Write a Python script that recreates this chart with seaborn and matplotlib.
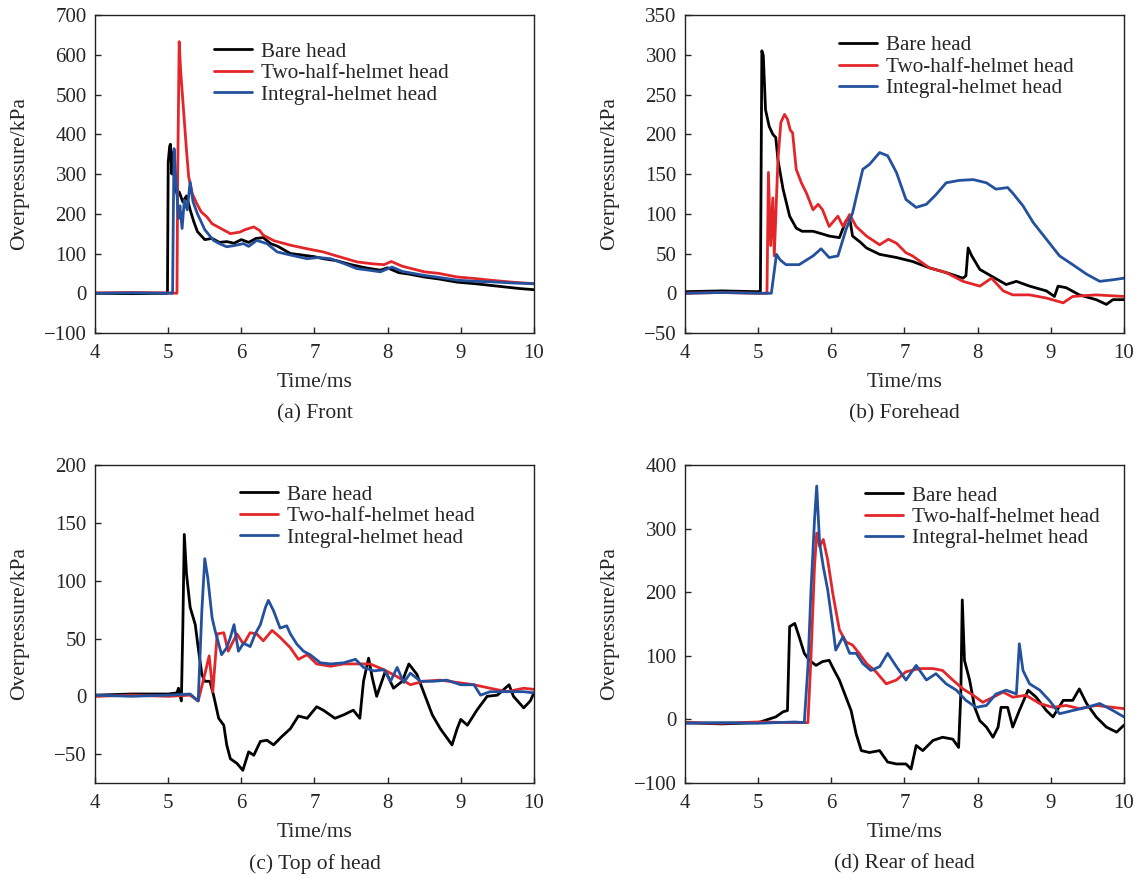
import numpy as np
import pandas as pd
import seaborn as sns
import matplotlib.pyplot as plt

# ---- (a) Front ----
a_bare_t = [4.0, 4.5, 4.98, 4.99, 5.0, 5.02, 5.03, 5.05, 5.06, 5.09, 5.12, 5.15, 5.2, 5.25, 5.3, 5.35, 5.4, 5.5, 5.6,
            5.7, 5.8, 5.9, 6.0, 6.1, 6.2, 6.3, 6.4, 6.5, 6.67, 6.8, 7.0, 7.12, 7.3, 7.5, 7.7, 7.9, 8.0, 8.05, 8.15, 8.3,
            8.5, 8.7, 8.95, 9.2, 9.4, 9.6, 9.8, 10.0]
a_bare_v = [0, -1, 0, 2, 330, 370, 375, 300, 355, 280, 250, 255, 230, 245, 210, 180, 155, 135, 138, 128, 130, 126, 135,
            128, 138, 140, 125, 118, 100, 97, 92, 87, 82, 72, 64, 58, 64, 60, 52, 48, 41, 36, 28, 24, 20, 16, 12, 9]
a_two_t = [4.0, 4.5, 5.0, 5.12, 5.13, 5.15, 5.17, 5.21, 5.25, 5.28, 5.33, 5.39, 5.45, 5.53, 5.6, 5.7, 5.76, 5.85,
           5.98, 6.05, 6.17, 6.25, 6.3, 6.45, 6.67, 6.9, 7.12, 7.3, 7.58, 7.8, 7.95, 8.05, 8.2, 8.5, 8.7, 8.95, 9.2,
           9.4, 9.7, 10.0]
a_two_v = [1, 2, 1, 0, 300, 633, 560, 460, 360, 293, 250, 226, 205, 192, 175, 165, 159, 150, 154, 160, 167, 158, 146,
           132, 121, 112, 104, 94, 79, 74, 72, 80, 68, 54, 50, 41, 37, 33, 28, 24]
a_int_t = [4.0, 4.5, 5.0, 5.06, 5.07, 5.08, 5.1, 5.12, 5.14, 5.16, 5.19, 5.22, 5.26, 5.3, 5.34, 5.4, 5.44, 5.5, 5.62,
           5.7, 5.8, 5.9, 6.03, 6.1, 6.21, 6.35, 6.49, 6.7, 6.9, 7.05, 7.22, 7.4, 7.58, 7.75, 7.9, 8.06, 8.2, 8.5,
           8.7, 8.95, 9.2, 9.4, 9.7, 10.0]
a_int_v = [0, 1, 0, 0, 200, 364, 300, 250, 188, 220, 163, 234, 210, 280, 230, 200, 184, 160, 133, 125, 117, 120, 125,
           118, 133, 125, 104, 95, 87, 90, 87, 75, 62, 58, 54, 66, 55, 45, 40, 33, 30, 29, 26, 24]

# ---- (b) Forehead ----
b_bare_t = [4.0, 4.5, 5.0, 5.03, 5.05, 5.07, 5.1, 5.15, 5.2, 5.24, 5.27, 5.34, 5.43, 5.52, 5.6, 5.75, 5.9, 5.97, 6.11,
            6.2, 6.25, 6.29, 6.4, 6.48, 6.66, 6.89, 7.11, 7.34, 7.57, 7.8, 7.84, 7.87, 7.92, 8.03, 8.2, 8.39, 8.53,
            8.71, 8.94, 9.05, 9.1, 9.21, 9.39, 9.62, 9.76, 9.85, 10.0]
b_bare_v = [2, 3, 2, 3, 305, 299, 231, 210, 200, 196, 168, 131, 97, 82, 78, 78, 74, 72, 70, 91, 95, 72, 64, 57, 49, 45,
            40, 32, 26, 19, 22, 57, 47, 30, 21, 11, 15, 9, 3, -4, 9, 7, -2, -8, -14, -8, -8]
b_two_t = [4.0, 4.5, 5.0, 5.12, 5.14, 5.17, 5.2, 5.22, 5.27, 5.31, 5.36, 5.4, 5.44, 5.47, 5.52, 5.59, 5.66, 5.75, 5.82,
           5.88, 5.97, 6.09, 6.16, 6.25, 6.34, 6.48, 6.66, 6.78, 6.89, 7.02, 7.11, 7.34, 7.57, 7.8, 8.03, 8.19, 8.35,
           8.48, 8.71, 8.94, 9.17, 9.3, 9.62, 10.0]
b_two_v = [0, 1, 0, 0, 152, 60, 120, 47, 168, 215, 225, 219, 205, 202, 156, 139, 126, 105, 112, 105, 84, 97, 84, 99,
           84, 72, 61, 68, 63, 51, 47, 32, 26, 15, 9, 19, 3, -2, -2, -6, -12, -4, -2, -4]
b_int_t = [4.0, 4.5, 5.0, 5.18, 5.25, 5.3, 5.38, 5.56, 5.75, 5.86, 5.97, 6.09, 6.2, 6.29, 6.43, 6.52, 6.66, 6.77,
           6.89, 7.02, 7.16, 7.3, 7.43, 7.57, 7.75, 7.94, 8.12, 8.25, 8.41, 8.48, 8.62, 8.76, 8.94, 9.12, 9.3, 9.49,
           9.67, 9.85, 10.0]
b_int_v = [0, 1, 0, 0, 49, 42, 36, 36, 47, 56, 45, 47, 80, 101, 156, 162, 177, 173, 152, 118, 108, 112, 124, 139, 142,
           143, 139, 131, 133, 126, 110, 89, 68, 47, 36, 24, 15, 17, 19]

# ---- (c) Top of head ----
c_bare_t = [4.0, 4.5, 5.0, 5.12, 5.14, 5.18, 5.2, 5.22, 5.25, 5.3, 5.37, 5.41, 5.46, 5.5, 5.57, 5.62, 5.69, 5.76,
            5.8, 5.85, 5.94, 6.02, 6.1, 6.17, 6.26, 6.35, 6.44, 6.55, 6.67, 6.78, 6.9, 7.03, 7.12, 7.28, 7.4, 7.53,
            7.62, 7.67, 7.74, 7.79, 7.85, 7.97, 8.08, 8.2, 8.29, 8.4, 8.49, 8.61, 8.72, 8.88, 8.95, 9.0, 9.09, 9.22,
            9.36, 9.5, 9.66, 9.72, 9.86, 9.95, 10.0]
c_bare_v = [1, 2, 2, 3, 7, -4, 60, 140, 106, 77, 62, 42, 19, 13, 13, 1, -19, -25, -42, -54, -58, -64, -48, -51, -39,
            -38, -42, -35, -28, -17, -19, -9, -12, -19, -16, -12, -19, 13, 33, 16, 0, 22, 7, 13, 28, 19, 4, -16, -28,
            -42, -28, -20, -25, -12, 0, 1, 10, 0, -10, -4, 3]
c_two_t = [4.0, 4.5, 5.0, 5.3, 5.41, 5.5, 5.56, 5.61, 5.67, 5.76, 5.82, 5.94, 6.03, 6.12, 6.21, 6.3, 6.42, 6.53,
           6.67, 6.78, 6.9, 7.03, 7.22, 7.4, 7.58, 7.76, 7.95, 8.13, 8.31, 8.49, 8.72, 8.95, 9.18, 9.4, 9.63, 9.86,
           10.0]
c_two_v = [0, 1, 0, 1, -4, 19, 35, 4, 54, 55, 39, 54, 45, 55, 54, 48, 57, 51, 42, 32, 36, 28, 26, 28, 28, 28, 23, 17,
           10, 13, 14, 12, 10, 7, 4, 7, 6]
c_int_t = [4.0, 4.5, 5.0, 5.3, 5.41, 5.46, 5.5, 5.54, 5.6, 5.64, 5.73, 5.8, 5.85, 5.9, 5.96, 6.03, 6.12, 6.19, 6.26,
           6.33, 6.37, 6.44, 6.53, 6.62, 6.67, 6.76, 6.85, 6.94, 7.08, 7.22, 7.4, 7.56, 7.67, 7.81, 7.95, 8.04, 8.13,
           8.22, 8.31, 8.45, 8.63, 8.81, 9.0, 9.18, 9.27, 9.4, 9.63, 9.86, 10.0]
c_int_v = [1, 0, 1, 2, -4, 74, 119, 103, 68, 57, 36, 42, 51, 62, 39, 46, 43, 54, 62, 77, 83, 74, 59, 61, 54, 45, 39,
           36, 29, 28, 29, 32, 25, 22, 23, 13, 25, 12, 20, 13, 13, 14, 10, 10, 1, 4, 4, 4, 3]

# ---- (d) Rear of head ----
d_bare_t = [4.0, 4.5, 5.0, 5.24, 5.34, 5.4, 5.43, 5.5, 5.56, 5.63, 5.7, 5.79, 5.88, 5.97, 6.04, 6.11, 6.2, 6.27,
            6.34, 6.41, 6.52, 6.66, 6.77, 6.89, 7.02, 7.09, 7.16, 7.25, 7.39, 7.52, 7.66, 7.74, 7.77, 7.79, 7.82,
            7.89, 7.96, 8.03, 8.12, 8.21, 8.28, 8.32, 8.41, 8.48, 8.57, 8.69, 8.8, 8.94, 9.03, 9.17, 9.3, 9.39, 9.49,
            9.62, 9.76, 9.9, 10.0]
d_bare_v = [-5, -7, -5, 4, 12, 14, 146, 151, 130, 104, 93, 85, 91, 93, 77, 62, 35, 14, -23, -49, -52, -49, -67, -70,
            -70, -78, -41, -49, -33, -28, -31, -44, 40, 188, 93, 62, 19, -2, -12, -28, -12, 19, 19, -12, 14, 46, 35,
            14, 4, 30, 30, 48, 25, 4, -12, -20, -9]
d_two_t = [4.0, 4.5, 5.0, 5.5, 5.68, 5.72, 5.77, 5.8, 5.84, 5.89, 5.95, 6.02, 6.11, 6.2, 6.29, 6.38, 6.48, 6.61,
           6.75, 6.89, 7.02, 7.21, 7.39, 7.52, 7.66, 7.8, 7.94, 8.07, 8.21, 8.35, 8.48, 8.66, 8.85, 9.03, 9.21, 9.39,
           9.62, 9.85, 10.0]
d_two_v = [-5, -6, -4, -5, -5, 93, 240, 293, 272, 283, 251, 198, 141, 122, 117, 104, 88, 75, 56, 62, 75, 80, 80, 77,
           62, 48, 38, 27, 35, 43, 35, 38, 25, 19, 22, 17, 22, 19, 17]
d_int_t = [4.0, 4.5, 5.0, 5.5, 5.63, 5.68, 5.72, 5.77, 5.8, 5.84, 5.89, 5.95, 6.02, 6.06, 6.16, 6.25, 6.34, 6.43,
           6.54, 6.66, 6.77, 6.89, 7.02, 7.16, 7.3, 7.43, 7.57, 7.71, 7.84, 7.98, 8.12, 8.25, 8.39, 8.53, 8.57,
           8.62, 8.71, 8.85, 8.98, 9.12, 9.3, 9.49, 9.67, 9.85, 10.0]
d_int_v = [-6, -5, -6, -4, -5, 83, 198, 314, 367, 277, 240, 204, 146, 109, 130, 104, 104, 88, 77, 83, 104, 83, 62,
           85, 62, 72, 56, 46, 30, 19, 22, 40, 46, 40, 119, 77, 56, 46, 30, 9, 14, 19, 25, 14, 4]

names = ["Bare head", "Two-half-helmet head", "Integral-helmet head"]
colors = ["#000000", "#e3262a", "#24519e"]
x_ticks = [4, 5, 6, 7, 8, 9, 10]

panels = [
    ("(a) Front", (-100, 700), list(range(-100, 701, 100)),
     [(a_bare_t, a_bare_v), (a_two_t, a_two_v), (a_int_t, a_int_v)], (0.27, 0.915)),
    ("(b) Forehead", (-50, 350), list(range(-50, 351, 50)),
     [(b_bare_t, b_bare_v), (b_two_t, b_two_v), (b_int_t, b_int_v)], (0.35, 0.935)),
    ("(c) Top of head", (-75, 200), list(range(-50, 201, 50)),
     [(c_bare_t, c_bare_v), (c_two_t, c_two_v), (c_int_t, c_int_v)], (0.33, 0.937)),
    ("(d) Rear of head", (-100, 400), list(range(-100, 401, 100)),
     [(d_bare_t, d_bare_v), (d_two_t, d_two_v), (d_int_t, d_int_v)], (0.41, 0.935)),
]

sns.set_theme(style="ticks")
plt.rcParams['font.family'] = ['Liberation Serif', 'DejaVu Serif']

fig = plt.figure(figsize=(11.37, 8.75), dpi=100)
boxes = [(0.0836, 0.6194), (0.6025, 0.6194), (0.0836, 0.1051), (0.6025, 0.1051)]

for (caption, ylim, yticks, series, leg_pos), (x0, y0) in zip(panels, boxes):
    ax = fig.add_axes([x0, y0, 0.386, 0.3634])
    for (t, v), name, c in zip(series, names, colors):
        df = pd.DataFrame({"t": t, "v": v})
        sns.lineplot(data=df, x="t", y="v", ax=ax, color=c, lw=2.0, label=name, estimator=None, sort=False)
    ax.set_xlim(4, 10)
    ax.set_ylim(*ylim)
    ax.set_xticks(x_ticks)
    ax.set_yticks(yticks)
    ax.tick_params(direction="in", length=4, labelsize=15, width=1, top=False, right=False)
    ax.tick_params(axis="x", pad=8)
    ax.tick_params(axis="y", pad=6)
    for sp in ax.spines.values():
        sp.set_linewidth(1.0)
        sp.set_color("#222222")
    ax.set_xlabel("Time/ms", fontsize=15.5, labelpad=7)
    ax.set_ylabel("Overpressure/kPa", fontsize=15.5)
    ax.yaxis.set_label_coords(-0.15, 0.5)
    ax.legend(loc="upper left", bbox_to_anchor=leg_pos, frameon=False, fontsize=15.2,
              handlelength=1.8, handletextpad=0.45, labelspacing=0.08, borderpad=0, borderaxespad=0)
    ax.text(0.5, -0.254, caption, transform=ax.transAxes, ha="center", va="center", fontsize=15.5)

plt.savefig("out.png", dpi=100)
